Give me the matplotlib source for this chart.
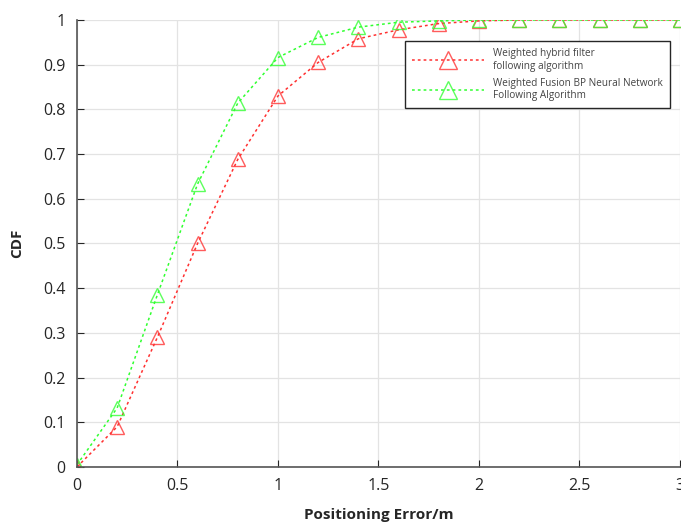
import matplotlib
matplotlib.use("Agg")
import matplotlib.pyplot as plt
import numpy as np

# positioning error (m) and CDF values
err = np.arange(0, 3.01, 0.2)
cdf_hybrid = [0.0, 0.09, 0.29, 0.50, 0.688, 0.83, 0.905, 0.958, 0.978, 0.992,
              0.998, 1.0, 1.0, 1.0, 1.0, 1.0]
cdf_bp = [0.005, 0.132, 0.385, 0.633, 0.814, 0.916, 0.961, 0.984, 0.995, 0.998,
          1.0, 1.0, 1.0, 1.0, 1.0, 1.0]

LABEL_HYBRID = "Weighted hybrid filter\nfollowing algorithm"
LABEL_BP = "Weighted Fusion BP Neural Network\nFollowing Algorithm"

plt.rcParams["font.family"] = ["Open Sans", "DejaVu Sans"]

fig = plt.figure(figsize=(6.81, 5.22), dpi=100)
ax = fig.add_axes([0.113, 0.1054, 0.8855, 0.8563])

ax.plot(err, cdf_hybrid, linestyle=(0, (1.8, 2)), color="#ff3030", linewidth=1.1,
        marker="^", markersize=10, markerfacecolor="none", markeredgewidth=1.0,
        markeredgecolor=(1, 0.2, 0.2, 0.8), label=LABEL_HYBRID)
ax.plot(err, cdf_bp, linestyle=(0, (1.8, 2)), color="#30ff30", linewidth=1.1,
        marker="^", markersize=10, markerfacecolor="none", markeredgewidth=1.0,
        markeredgecolor=(0.2, 1, 0.2, 0.8), label=LABEL_BP)

ax.set_xlim(0, 3)
ax.set_ylim(0, 1)
ax.set_xticks([0, 0.5, 1, 1.5, 2, 2.5, 3])
ax.set_xticklabels(["0", "0.5", "1", "1.5", "2", "2.5", "3"])
ax.set_yticks(np.arange(0, 1.01, 0.1))
ax.set_yticklabels(["0", "0.1", "0.2", "0.3", "0.4", "0.5", "0.6", "0.7",
                    "0.8", "0.9", "1"])
ax.tick_params(direction="in", length=5, labelsize=11.5, colors="#262626",
               pad=8)
ax.grid(color="#e3e3e3", linewidth=0.9)
ax.set_axisbelow(True)
for s in ("top", "right"):
    ax.spines[s].set_visible(False)
for s in ("left", "bottom"):
    ax.spines[s].set_color("#555555")
    ax.spines[s].set_linewidth(1.2)

ax.set_xlabel("Positioning Error/m", fontsize=11, fontweight="bold",
              color="#262626", labelpad=10)
ax.set_ylabel("CDF", fontsize=11, fontweight="bold", color="#262626",
              labelpad=14)

leg = ax.legend(loc="upper right", bbox_to_anchor=(670 / 681, 1 - 41 / 522),
                bbox_transform=fig.transFigure, fontsize=7.2, handlelength=7.2,
                markerscale=1.3, fancybox=False, framealpha=1,
                edgecolor="#262626", borderpad=0.7, labelspacing=0.6,
                handletextpad=0.9, borderaxespad=0)
leg.get_frame().set_linewidth(1.0)
for t in leg.get_texts():
    t.set_color("#444444")

fig.savefig("out.png", dpi=100)
